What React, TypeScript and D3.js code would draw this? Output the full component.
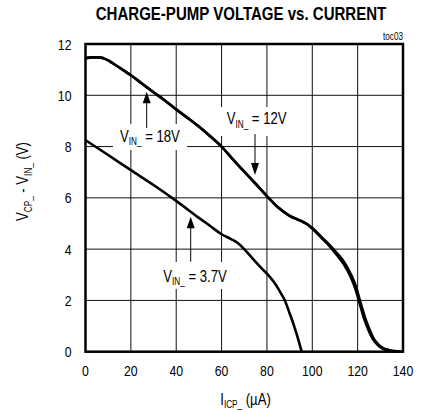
import React from "react";
import * as d3 from "d3";

const xTicks = [0, 20, 40, 60, 80, 100, 120, 140];
const yTicks = [0, 2, 4, 6, 8, 10, 12];

// V_IN_ = 12V
const x12 = [0, 3, 6, 8, 10, 12, 16, 20, 25, 30, 35, 40, 45, 50, 55, 60, 65, 70, 75, 80, 85, 90, 95, 98, 100, 104, 108, 111, 114, 117, 119, 121, 123, 125, 127, 129, 131, 134, 138, 140];
const y12 = [11.45, 11.48, 11.48, 11.44, 11.36, 11.25, 11.02, 10.78, 10.45, 10.12, 9.8, 9.45, 9.12, 8.78, 8.4, 8.0, 7.5, 7.02, 6.55, 6.07, 5.62, 5.3, 5.1, 4.95, 4.8, 4.44, 4.08, 3.75, 3.4, 2.9, 2.45, 1.85, 1.25, 0.8, 0.45, 0.25, 0.12, 0.05, 0.01, 0];

// V_IN_ = 18V
const x18 = [0, 3, 6, 8, 10, 12, 16, 20, 25, 30, 35, 40, 45, 50, 55, 60, 65, 70, 75, 80, 85, 90, 95, 98, 100, 104, 108, 111, 114, 117, 119, 121, 123, 125, 127, 129, 131, 134, 138, 140];
const y18 = [11.45, 11.48, 11.48, 11.44, 11.36, 11.25, 11.02, 10.78, 10.45, 10.12, 9.8, 9.45, 9.12, 8.78, 8.4, 8.0, 7.5, 7.02, 6.55, 6.07, 5.62, 5.3, 5.1, 4.96, 4.82, 4.48, 4.13, 3.83, 3.5, 3.02, 2.6, 2.0, 1.4, 0.92, 0.52, 0.29, 0.15, 0.06, 0.01, 0];

// V_IN_ = 3.7V
const x37 = [0, 10, 20, 30, 40, 50, 55, 60, 64, 67, 70, 74, 78, 81, 84, 86, 88, 90, 92, 94, 95.3];
const y37 = [8.25, 7.67, 7.08, 6.5, 5.88, 5.22, 4.9, 4.58, 4.4, 4.25, 4.0, 3.6, 3.22, 2.95, 2.6, 2.3, 1.98, 1.5, 1.0, 0.42, 0];

const title = "CHARGE-PUMP VOLTAGE vs. CURRENT";
const tag = "toc03";

const FONT = "'Liberation Sans', Arial, sans-serif";
const SX = 0.82;

const L = 85.5, R = 403, T = 44, B = 351.7;

function Narrow({ x, y, anchor = "start", size = 15, weight = "normal", rotate = 0, sx = SX, children }: any) {
  return (
    <text
      transform={`translate(${x},${y}) rotate(${rotate}) scale(${sx},1)`}
      textAnchor={anchor}
      fontSize={size}
      fontWeight={weight}
      fontFamily={FONT}
      fill="#000"
    >
      {children}
    </text>
  );
}

function Sub({ main, sub, rest }: { main: string; sub: string; rest: string }) {
  return (
    <>
      <tspan>{main}</tspan>
      <tspan fontSize={10} dy={3.5}>{sub}</tspan>
      <tspan dy={-3.5}>{rest}</tspan>
    </>
  );
}

export default function App() {
  const x = d3.scaleLinear().domain([0, 140]).range([L, R]);
  const y = d3.scaleLinear().domain([0, 12]).range([B, T]);
  const line = d3
    .line<[number, number]>()
    .x((d) => x(d[0]))
    .y((d) => y(d[1]))
    .curve(d3.curveMonotoneX);
  const s12 = x12.map((v, i) => [v, y12[i]] as [number, number]);
  const s18 = x18.map((v, i) => [v, y18[i]] as [number, number]);
  const s37 = x37.map((v, i) => [v, y37[i]] as [number, number]);

  const arrowUp = (ax: number, tip: number, tail: number) => (
    <g>
      <line x1={ax} x2={ax} y1={tip + 8} y2={tail} stroke="#000" strokeWidth={1} />
      <path d={`M${ax},${tip} L${ax - 4},${tip + 11.5} L${ax + 4},${tip + 11.5} Z`} fill="#000" />
    </g>
  );
  const arrowDown = (ax: number, tip: number, tail: number) => (
    <g>
      <line x1={ax} x2={ax} y1={tail} y2={tip - 8} stroke="#000" strokeWidth={1} />
      <path d={`M${ax},${tip} L${ax - 4},${tip - 12} L${ax + 4},${tip - 12} Z`} fill="#000" />
    </g>
  );

  return (
    <svg width={424} height={412} style={{ position: "absolute", left: 0, top: 0, background: "#fff" }}>
      <rect x={0} y={0} width={424} height={412} fill="#fff" />
      <Narrow x={241} y={20} anchor="middle" size={18} weight="bold" sx={0.835}>{title}</Narrow>
      <Narrow x={403} y={40} anchor="end" size={10}>{tag}</Narrow>

      {/* grid */}
      {xTicks.slice(1, -1).map((t) => (
        <line key={"gx" + t} x1={x(t)} x2={x(t)} y1={T} y2={B} stroke="#111" strokeWidth={1} />
      ))}
      {yTicks.slice(1, -1).map((t) => (
        <line key={"gy" + t} x1={L} x2={R} y1={y(t)} y2={y(t)} stroke="#111" strokeWidth={1} />
      ))}

      {/* label backgrounds */}
      <rect x={113} y={124} width={74} height={26} fill="#fff" />
      <rect x={218} y={107} width={74} height={29} fill="#fff" />
      <rect x={160} y={262} width={70} height={27} fill="#fff" />

      {/* curves */}
      <path d={line(s37) || ""} fill="none" stroke="#000" strokeWidth={2.6} strokeLinejoin="round" />
      <path d={line(s12) || ""} fill="none" stroke="#000" strokeWidth={2.6} strokeLinejoin="round" />
      <path d={line(s18) || ""} fill="none" stroke="#000" strokeWidth={2.6} strokeLinejoin="round" />

      {/* frame */}
      <rect x={L} y={T} width={R - L} height={B - T} fill="none" stroke="#000" strokeWidth={2.5} />

      {/* tick labels */}
      {xTicks.map((t) => (
        <Narrow key={"xl" + t} x={x(t)} y={376} anchor="middle">{String(t)}</Narrow>
      ))}
      {yTicks.map((t) => (
        <Narrow key={"yl" + t} x={71.5} y={y(t) + 5.5} anchor="end">{String(t)}</Narrow>
      ))}

      {/* annotations */}
      <Narrow x={120} y={141.7} size={16}>
        <Sub main="V" sub="IN_" rest=" = 18V" />
      </Narrow>
      {arrowUp(146.7, 91.7, 128)}
      <Narrow x={226.7} y={124} size={16}>
        <Sub main="V" sub="IN_" rest=" = 12V" />
      </Narrow>
      {arrowDown(255, 175, 134)}
      <Narrow x={163.3} y={281.7} size={16}>
        <Sub main="V" sub="IN_" rest=" = 3.7V" />
      </Narrow>
      {arrowUp(190.7, 216.7, 261.7)}

      {/* axis titles */}
      <Narrow x={245.5} y={404.5} anchor="middle" size={16}>
        <tspan>I</tspan>
        <tspan fontSize={10} dy={3.5}>ICP_</tspan>
        <tspan dy={-3.5}> (µA)</tspan>
      </Narrow>
      <Narrow x={28} y={181.5} anchor="middle" size={16} rotate={-90}>
        <tspan>V</tspan>
        <tspan fontSize={10} dy={3.5}>CP_</tspan>
        <tspan dy={-3.5}> - V</tspan>
        <tspan fontSize={10} dy={3.5}>IN_</tspan>
        <tspan dy={-3.5}> (V)</tspan>
      </Narrow>
    </svg>
  );
}
